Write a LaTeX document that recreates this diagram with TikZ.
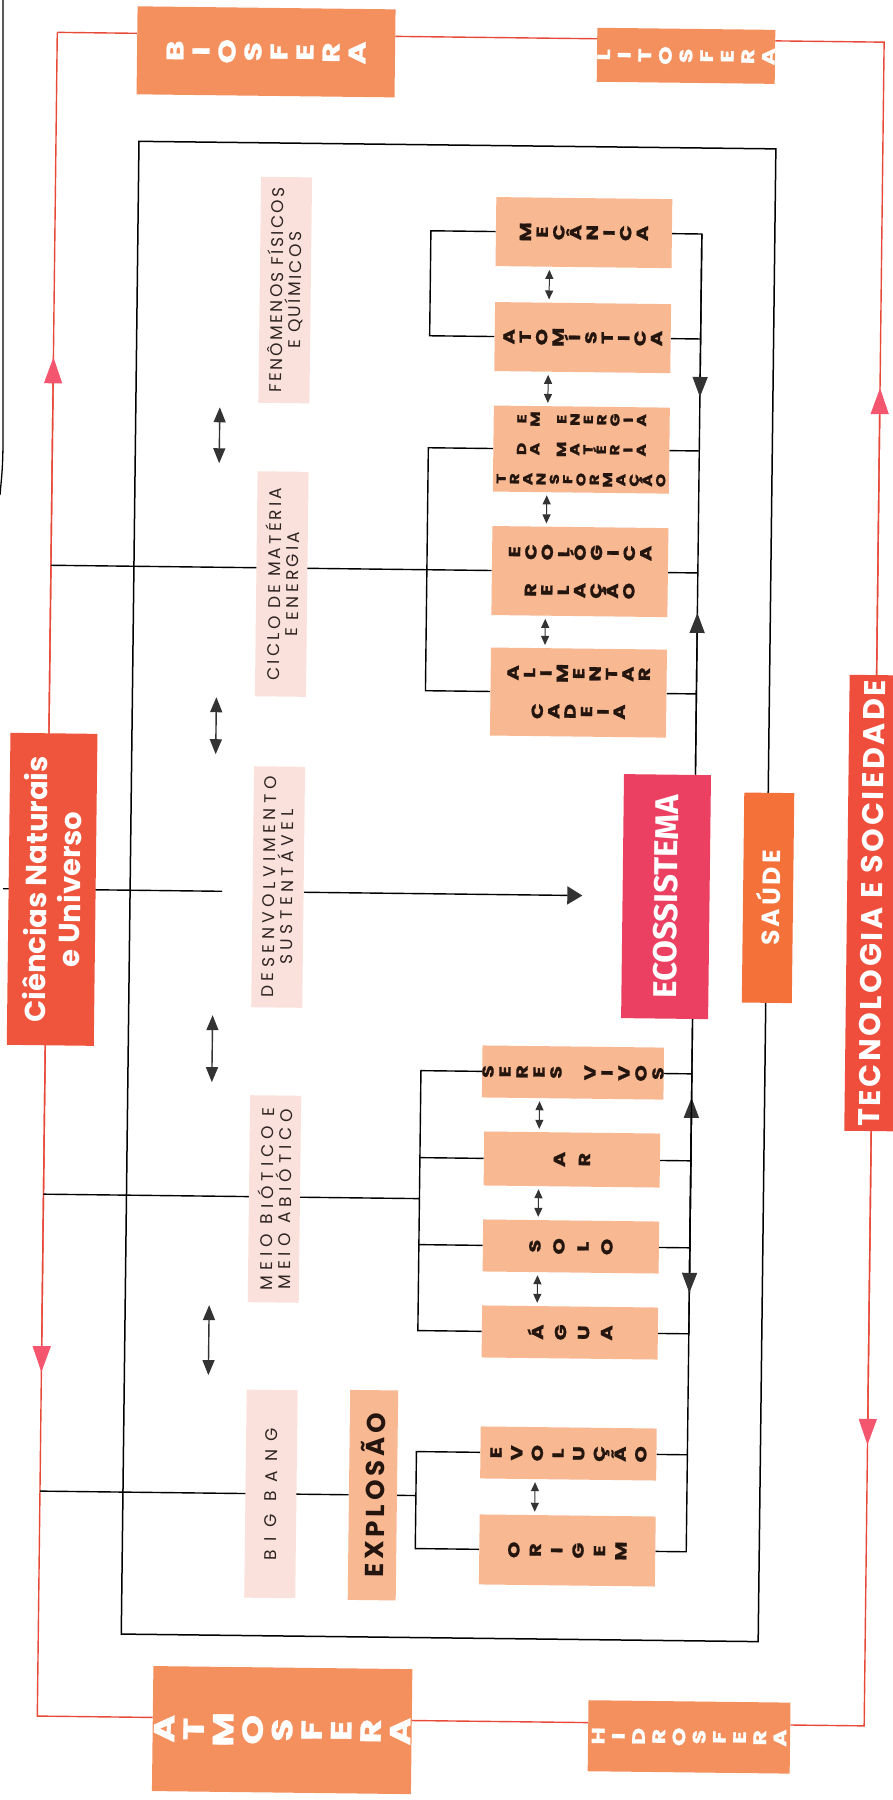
\documentclass[tikz,border=0pt]{standalone}
\usepackage{fontspec}
\setmainfont{Poppins}
\newfontfamily\firafont{Fira Sans}
\usepackage{graphicx}
\usetikzlibrary{arrows.meta,backgrounds}
\definecolor{frameC}{HTML}{E84A3A}
\definecolor{fArrC}{HTML}{F4566F}
\definecolor{outerC}{HTML}{F4905D}
\definecolor{innerC}{HTML}{F8B892}
\definecolor{labelC}{HTML}{FBE1DB}
\definecolor{ecoC}{HTML}{EC4062}
\definecolor{saudeC}{HTML}{F47139}
\definecolor{cienC}{HTML}{EF553C}
\definecolor{tecC}{HTML}{EE4E3B}
\definecolor{inkC}{HTML}{24160F}
\definecolor{labC}{HTML}{2E2523}
\definecolor{arrC}{HTML}{333333}
\makeatletter
\let\vw@end\relax
\newcommand\vwsx{1.3}
\def\vw@loop#1{\ifx#1\vw@end\else\hbox to 0pt{\hss\ifx#1_\else\scalebox{\vwsx}[1]{#1}\fi\hss}\expandafter\vw@loop\fi}
\newcommand\vw[2]{\vbox{\baselineskip=#1\relax\lineskiplimit=-\maxdimen\lineskip=0pt\relax\vw@loop#2\vw@end}}
\newcommand\vc[2]{\ensuremath{\vcenter{\vw{#1}{#2}}}}
\newcommand\twol[3]{\vbox{\baselineskip=#1\relax\lineskiplimit=-\maxdimen\halign{\hfil##\hfil\cr#2\cr#3\cr}}}
\newcommand\fs[2]{\fontsize{#1}{#2}\selectfont}
\makeatother
\begin{document}
\begin{tikzpicture}[x=1pt,y=-1pt,
  conn/.style={draw=black,line width=1.4pt},
  frameline/.style={draw=frameC,line width=1.4pt},
  obox/.style={fill=outerC,inner sep=0pt,text=white},
  ibox/.style={fill=innerC,inner sep=0pt,text=inkC,minimum width=176pt,font=\bfseries\fs{16}{16}\addfontfeature{FakeBold=1}},
  lbl/.style={fill=labelC,inner sep=0pt,text=labC,minimum width=51pt},
  tri/.style={-{Triangle[length=20pt,width=15pt,color=arrC]}},
  ftri/.style={-{Triangle[length=26pt,width=18pt,color=fArrC]}},
  bigdbl/.style={line width=1.4pt,draw=arrC,{Triangle[length=15pt,width=12pt]}-{Triangle[length=15pt,width=12pt]}},
  smalldbl/.style={line width=1pt,draw=arrC,{Triangle[length=9pt,width=8pt]}-{Triangle[length=9pt,width=8pt]},shorten <=3pt,shorten >=3pt}
]
\useasboundingbox (0,0) rectangle (893,1800);
\begin{pgfonlayer}{background}
\fill[white] (0,0) rectangle (893,1800);
\end{pgfonlayer}
\draw[line width=1.3pt] (3,0) -- (3,440) .. controls (3,470) and (1,482) .. (0,495);
\begin{scope}[rotate around={-0.68:(446,900)},transform shape]
% outer boxes
\node[obox,minimum width=258pt,minimum height=88pt,font=\bfseries\fs{24}{24}\addfontfeature{FakeBold=1}] (bio) at (256,54) {\rotatebox{90}{\vw{26pt}{BIOSFERA}}};
\node[obox,minimum width=178pt,minimum height=54pt,font=\bfseries\fs{18}{18}\addfontfeature{FakeBold=1}] (lito) at (676,53) {\rotatebox{90}{\vw{20.6pt}{LITOSFERA}}};
\node[obox,minimum width=259pt,minimum height=125pt,font=\bfseries\fs{29}{29}\addfontfeature{FakeBold=1}] (atmo) at (292,1732) {\rotatebox{90}{\vw{29.5pt}{ATMOSFERA}}};
\node[obox,minimum width=202pt,minimum height=71pt,font=\bfseries\fs{18}{18}\addfontfeature{FakeBold=1}] (hidro) at (699,1734) {\rotatebox{90}{\vw{20.2pt}{HIDROSFERA}}};
% side boxes
\node[fill=cienC,inner sep=0pt,minimum width=87pt,minimum height=312pt,text=white,font=\bfseries\fs{29}{29}] (cien) at (52,894) {\rotatebox{90}{\twol{34pt}{Ciências Naturais}{e Universo}}};
\node[fill=tecC,inner sep=0pt,minimum width=50pt,minimum height=456pt,text=white,font=\bfseries\fs{30}{30}\addfontfeature{LetterSpace=9}] (tec) at (872,898) {\rotatebox{90}{TECNOLOGIA E SOCIEDADE}};
% centre
\node[fill=ecoC,inner sep=0pt,minimum width=87pt,minimum height=244pt,text=white,font=\firafont\bfseries\fs{33}{33}] (eco) at (666,894) {\rotatebox{90}{ECOSSISTEMA}};
\node[fill=saudeC,inner sep=0pt,minimum width=50pt,minimum height=210pt,text=white,font=\bfseries\fs{25}{25}\addfontfeature{LetterSpace=12}] (saude) at (768,894) {\rotatebox{90}{SAÚDE}};
% labels
\node[lbl,minimum height=226pt,font=\fs{17}{17}\addfontfeature{LetterSpace=14}] (fen) at (278,292) {\rotatebox{90}{\twol{18pt}{FENÔMENOS FÍSICOS}{E QUÍMICOS}}};
\node[lbl,minimum height=225pt,font=\fs{17}{17}\addfontfeature{LetterSpace=19}] (ciclo) at (278,586) {\rotatebox{90}{\twol{18pt}{CICLO DE MATÉRIA}{E ENERGIA}}};
\node[lbl,minimum height=241pt,font=\fs{17}{17}\addfontfeature{LetterSpace=27}] (desenv) at (278,889) {\rotatebox{90}{\twol{18pt}{DESENVOLVIMENTO}{SUSTENTÁVEL}}};
\node[lbl,minimum height=207pt,font=\fs{17}{17}\addfontfeature{LetterSpace=30}] (meio) at (278,1201) {\rotatebox{90}{\twol{18pt}{MEIO BIÓTICO E}{MEIO ABIÓTICO}}};
\node[lbl,minimum height=208pt,font=\fs{17}{17}\addfontfeature{LetterSpace=52}] (bigb) at (278,1496) {\rotatebox{90}{BIG BANG}};
\node[fill=innerC,inner sep=0pt,minimum width=48pt,minimum height=210pt,text=inkC,font=\bfseries\fs{26}{26}\addfontfeature{LetterSpace=15}] (explo) at (380,1496) {\rotatebox{90}{EXPLOSÃO}};
% inner boxes
\node[ibox,minimum height=69pt] (mec) at (576,231) {\rotatebox{90}{\vw{16.7pt}{MECÂNICA}}};
\node[ibox,minimum height=69pt] (atom) at (576,336) {\rotatebox{90}{\vw{16.4pt}{ATOMÍSTICA}}};
\node[ibox,minimum height=86pt,font=\bfseries\fs{13}{13}\addfontfeature{FakeBold=1}] (transf) at (576,448) {\rotatebox{90}{\vc{13.3pt}{TRANSFORMAÇÃO}\hskip30pt\vc{13.3pt}{DA_MATÉRIA}\hskip30pt\vc{13.3pt}{EM_ENERGIA}}};
\node[ibox,minimum height=89pt] (rel) at (576,570) {\rotatebox{90}{\vc{16.4pt}{RELAÇÃO}\hskip38pt\vc{16.4pt}{ECOLÓGICA}}};
\node[ibox,minimum height=88pt] (cad) at (576,691) {\rotatebox{90}{\vc{16.4pt}{CADEIA}\hskip38pt\vc{16.4pt}{ALIMENTAR}}};
\node[ibox,minimum height=52pt] (seres) at (575,1071) {\rotatebox{90}{\vw{17pt}{SERES_VIVOS}}};
\node[ibox,minimum height=54pt] (ar) at (575,1158) {\rotatebox{90}{\vw{25pt}{AR}}};
\node[ibox,minimum height=52pt] (solo) at (575,1245) {\rotatebox{90}{\vw{24pt}{SOLO}}};
\node[ibox,minimum height=52pt] (agua) at (575,1331) {\rotatebox{90}{\vw{23pt}{ÁGUA}}};
\node[ibox,minimum height=52pt] (evol) at (575,1452) {\rotatebox{90}{\vw{20.7pt}{EVOLUÇÃO}}};
\node[ibox,minimum height=70pt] (orig) at (575,1549) {\rotatebox{90}{\vw{21.4pt}{ORIGEM}}};
\begin{pgfonlayer}{background}
\coordinate (ftl) at (47,37);
\coordinate (ftr) at (874,37);
\coordinate (fbr) at (874,1721);
\coordinate (fbl) at (47,1721);
\coordinate (bx) at (423,0);
\coordinate (rx) at (694,0);
\coordinate (sx) at (542,0);
\coordinate (ir1) at (130,145);
\coordinate (ir2) at (767,1638);
% outer frame
\draw[frameline] (ftl) -- (bio.west |- ftl);
\draw[frameline] (bio.east |- ftl) -- (lito.west |- ftl);
\draw[frameline] (lito.east |- ftl) -- (ftr) -- (fbr) -- (hidro.east |- fbr);
\draw[frameline] (hidro.west |- fbr) -- (atmo.east |- fbr);
\draw[frameline] (atmo.west |- fbr) -- (fbl) -- (ftl);
\coordinate (la1) at (47,362);
\coordinate (la2) at (47,1377);
\coordinate (ra1) at (874,383);
\coordinate (ra2) at (874,1440);
\draw[frameline,ftri] (cien.north -| ftl) -- (la1);
\draw[frameline,ftri] (cien.south -| ftl) -- (la2);
\draw[frameline,ftri] (tec.north -| ftr) -- (ra1);
\draw[frameline,ftri] (tec.south -| ftr) -- (ra2);
% inner frame
\draw[conn,line width=1.5pt] (ir1) rectangle (ir2);
% upper group
\draw[conn] (mec.west) -- (mec.west -| bx) -- (atom.west -| bx) -- (atom.west);
\draw[conn] (transf.west) -- (transf.west -| bx) -- (cad.west -| bx) -- (cad.west);
\draw[conn] (rel.west -| ftl) -- (rel.west);
\draw[conn] (mec.east) -- (mec.east -| rx) -- (eco.north -| rx);
\foreach \n in {atom,transf,rel,cad} \draw[conn] (\n.east) -- (\n.east -| rx);
\coordinate (ta1) at (694,394);
\coordinate (ta2) at (694,610);
\draw[conn,tri] (mec.east -| rx) -- (ta1);
\draw[conn,tri] (eco.north -| rx) -- (ta2);
% desenvolvimento
\coordinate (dl) at (3,894);
\coordinate (dg) at (222,894);
\draw[conn] (dl) -- (dg);
\draw[conn,-{Triangle[length=15pt,width=18pt,color=arrC]},shorten >=40pt] (desenv.east |- dl) -- (eco.west);
% lower group
\coordinate (ml) at (47,1199);
\coordinate (mj) at (423,1199);
\draw[conn] (ml) -- (mj);
\draw[conn] (seres.west) -- (seres.west -| bx) -- (agua.west -| bx) -- (agua.west);
\foreach \n in {ar,solo} \draw[conn] (\n.west) -- (\n.west -| bx);
\draw[conn] (eco.south -| rx) -- (orig.east -| rx) -- (orig.east);
\foreach \n in {seres,ar,solo,agua,evol} \draw[conn] (\n.east) -- (\n.east -| rx);
\coordinate (ta3) at (694,1095);
\coordinate (ta4) at (694,1290);
\draw[conn,tri] (agua.east -| rx) -- (ta3);
\draw[conn,tri] (eco.south -| rx) -- (ta4);
\draw[conn] (evol.west) -- (evol.west -| bx) -- (orig.west -| bx) -- (orig.west);
\draw[conn] (explo.west -| ftl) -- (explo.west);
\draw[conn] (explo.east) -- (explo.east -| bx);
% double arrows
\coordinate (d1a) at (214,410); \coordinate (d1b) at (214,466);
\coordinate (d2a) at (214,700); \coordinate (d2b) at (214,757);
\coordinate (d3a) at (214,1018); \coordinate (d3b) at (214,1085);
\coordinate (d4a) at (214,1308); \coordinate (d4b) at (214,1378);
\draw[bigdbl] (d1a) -- (d1b);
\draw[bigdbl] (d2a) -- (d2b);
\draw[bigdbl] (d3a) -- (d3b);
\draw[bigdbl] (d4a) -- (d4b);
\foreach \a/\b in {mec/atom,atom/transf,transf/rel,rel/cad,seres/ar,ar/solo,solo/agua,evol/orig}
  \draw[smalldbl] (\a.south -| sx) -- (\b.north -| sx);
\end{pgfonlayer}
\end{scope}
\end{tikzpicture}
\end{document}
